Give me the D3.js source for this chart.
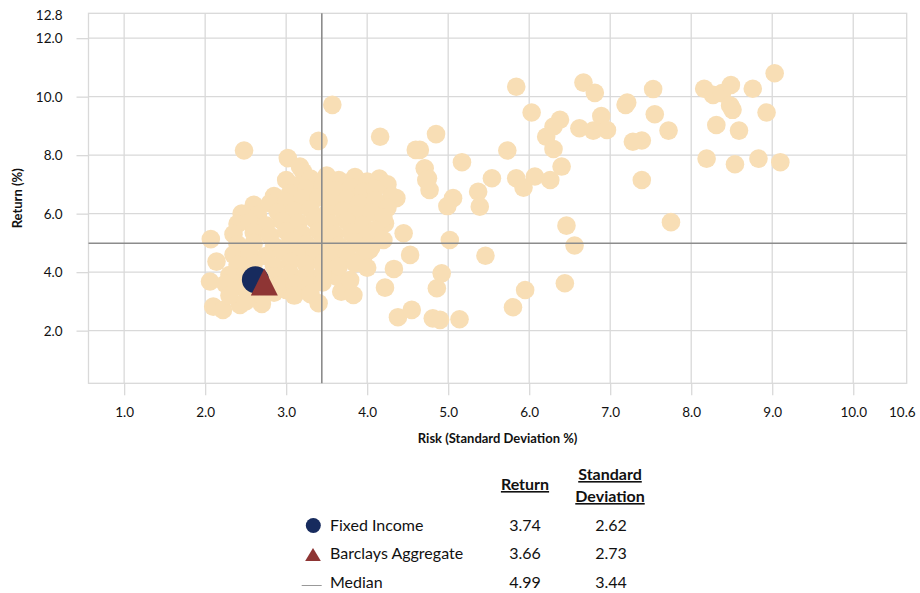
<!DOCTYPE html>
<html><head><meta charset="utf-8">
<script src="https://cdn.jsdelivr.net/npm/d3@7"></script>
<style>
body{margin:0;background:#fff}
text{font-family:Lato,"Open Sans",sans-serif;fill:#111}
</style>
</head><body>
<svg id="chart" width="920" height="593"></svg>
<script>
// ---- data (risk = standard deviation %, return %) ----
const peerPoints = [
  // upper-right group
  [7.53,10.26],[7.55,9.40],[7.72,8.84],[7.39,8.50],[7.39,7.15],[7.75,5.71],
  [8.16,10.27],[8.27,10.06],[8.38,10.12],[8.49,10.40],[8.48,9.70],[8.51,9.55],[8.31,9.03],[8.59,8.84],
  [8.76,10.27],[9.03,10.80],[8.93,9.46],[8.19,7.88],[8.54,7.69],[8.83,7.88],[9.10,7.76],
  // middle group
  [5.84,10.34],[6.03,9.46],[6.67,10.48],[6.81,10.13],[6.89,9.34],[6.38,9.21],[6.30,8.98],[6.21,8.63],
  [6.30,8.21],[6.62,8.92],[6.79,8.84],[6.96,8.86],[7.19,9.72],[7.21,9.80],[7.28,8.46],[6.40,7.61],
  [5.73,8.16],[5.17,7.76],[5.54,7.21],[5.84,7.21],[5.93,6.89],[6.07,7.27],[6.26,7.15],[5.37,6.75],
  [5.39,6.24],[5.06,6.53],[4.99,6.26],[4.71,7.55],[4.75,7.21],[4.77,6.81],[4.65,8.18],[4.85,8.72],
  [6.46,5.59],[6.56,4.91],[5.02,5.10],[5.46,4.56],[4.92,3.96],[4.86,3.45],[5.95,3.39],[5.80,2.80],
  [6.44,3.62],[4.81,2.42],[4.90,2.37],[5.14,2.39],[4.38,2.46],[4.55,2.71],
  [3.57,9.72],[3.40,8.49],[4.16,8.63],[4.60,8.18],[4.73,7.15],[4.36,6.53],[4.45,5.33],[4.22,5.67],
  [2.48,8.16],[3.02,7.90],[3.17,7.61],[3.21,7.43],[3.00,7.15],
  // lower / left edge of the main cluster
  [2.07,5.13],[2.14,4.36],[2.06,3.68],[2.10,2.82],[2.22,2.71],[2.43,2.88],[2.70,2.91],[3.00,3.39],
  [3.21,3.39],[3.40,2.94],[3.68,3.33],[3.83,3.22],[3.62,3.85],[3.79,3.73],[4.22,3.47],[4.33,4.11],
  [4.53,4.59],[4.03,4.76],
  // dense main cluster
  [3.30,7.20],[3.50,7.30],[3.65,7.15],[3.85,7.25],[4.00,7.10],[4.15,7.20],[4.25,7.00],[3.10,6.95],
  [2.85,6.60],[3.05,6.70],[3.25,6.85],[3.45,6.95],[3.60,6.80],[3.80,6.90],[3.95,6.75],[4.10,6.85],[4.30,6.60],
  [2.60,6.30],[2.80,6.35],[3.00,6.40],[3.20,6.50],[3.40,6.55],[3.55,6.35],[3.75,6.50],[3.90,6.35],[4.10,6.45],[4.25,6.20],
  [2.45,6.00],[2.65,5.95],[2.90,6.05],[3.10,6.10],[3.30,6.15],[3.50,6.00],[3.70,6.10],[3.85,5.95],[4.05,6.05],[4.20,5.85],
  [2.40,5.65],[2.55,5.70],[2.75,5.60],[2.95,5.75],[3.15,5.70],[3.35,5.80],[3.55,5.65],[3.75,5.75],[3.95,5.60],[4.10,5.45],
  [2.35,5.30],[2.60,5.35],[2.80,5.25],[3.00,5.40],[3.20,5.30],[3.40,5.40],[3.60,5.30],[3.80,5.35],[4.00,5.20],[4.20,5.10],
  [2.40,4.95],[2.60,5.00],[2.85,4.90],[3.05,5.05],[3.25,4.95],[3.45,5.00],[3.65,4.90],[3.85,5.00],[4.05,4.85],
  [2.35,4.60],[2.55,4.65],[2.75,4.55],[2.95,4.70],[3.15,4.60],[3.35,4.65],[3.55,4.55],[3.75,4.60],[3.95,4.50],
  [2.40,4.25],[2.60,4.30],[2.85,4.20],[3.05,4.35],[3.25,4.25],[3.45,4.30],[3.65,4.20],[3.85,4.30],[4.00,4.15],
  [2.30,3.90],[2.50,3.95],[2.85,3.85],[3.05,3.95],[3.25,3.90],[3.45,3.95],
  [2.25,3.60],[2.45,3.50],[2.75,3.50],[2.90,3.55],[3.10,3.60],[3.30,3.55],[3.45,3.65],
  [2.30,3.20],[2.55,3.20],[2.50,3.00],[2.85,3.30],[3.10,3.20],[3.30,3.25]
];
const seriesNames = ["Fixed Income", "Barclays Aggregate", "Median"];
const seriesReturn = [3.74, 3.66, 4.99];
const seriesStdDev = [2.62, 2.73, 3.44];
const xTickValues = [1,2,3,4,5,6,7,8,9,10,10.6];
const yTickValues = [2,4,6,8,10,12,12.8];
const xDomain = [0.56, 10.66];
const yDomain = [0.2, 12.85];

// ---- layout ----
const svg = d3.select("#chart");
const L = 88.5, R = 906.7, T = 13.3, B = 383.3;
const x = d3.scaleLinear().domain(xDomain).range([L, R]);
const y = d3.scaleLinear().domain(yDomain).range([B, T]);
const gridColor = "#d9d9d9";
const tan = "#f8deb5", navy = "#172b5e", red = "#8e3534", medianColor = "#8c8c8c";

// gridlines
const grid = svg.append("g");
grid.selectAll("line.v").data(xTickValues.filter(Number.isInteger)).join("line")
  .attr("x1", d => x(d)).attr("x2", d => x(d)).attr("y1", T).attr("y2", B)
  .attr("stroke", gridColor).attr("stroke-width", 1.3);
grid.selectAll("line.h").data(yTickValues.filter(Number.isInteger)).join("line")
  .attr("x1", L).attr("x2", R).attr("y1", d => y(d)).attr("y2", d => y(d))
  .attr("stroke", gridColor).attr("stroke-width", 1.3);
svg.append("rect").attr("x", L).attr("y", T).attr("width", R - L).attr("height", B - T)
  .attr("fill", "none").attr("stroke", gridColor).attr("stroke-width", 1.3);

// axes
const fmt = d3.format(".1f");
const xAxis = svg.append("g").attr("transform", `translate(0,${B})`)
  .call(d3.axisBottom(x).tickValues(xTickValues).tickFormat(fmt).tickSize(12).tickPadding(12));
const yAxis = svg.append("g").attr("transform", `translate(${L},0)`)
  .call(d3.axisLeft(y).tickValues(yTickValues).tickFormat(fmt).tickSize(12).tickPadding(14));
[xAxis, yAxis].forEach(g => {
  g.select(".domain").remove();
  g.selectAll(".tick line").attr("stroke", gridColor).attr("stroke-width", 1.3)
    .filter(d => !Number.isInteger(d)).remove();
  g.selectAll(".tick text").attr("font-family", "Lato").attr("font-size", 13.5).attr("fill", "#111");
});
yAxis.selectAll(".tick text").attr("dy", "0.35em");

// peer dots
svg.append("g").selectAll("circle").data(peerPoints).join("circle")
  .attr("cx", d => x(d[0])).attr("cy", d => y(d[1])).attr("r", 9.3).attr("fill", tan);

// median lines
svg.append("line").attr("x1", x(seriesStdDev[2])).attr("x2", x(seriesStdDev[2]))
  .attr("y1", T).attr("y2", B).attr("stroke", medianColor).attr("stroke-width", 1.6);
svg.append("line").attr("x1", L).attr("x2", R)
  .attr("y1", y(seriesReturn[2])).attr("y2", y(seriesReturn[2])).attr("stroke", medianColor).attr("stroke-width", 1.6);

// highlighted markers
function tri(cx, cy, w, h) {
  return `M${cx - w/2},${cy + h/2}L${cx + w/2},${cy + h/2}L${cx},${cy - h/2}Z`;
}
svg.append("circle").attr("cx", x(seriesStdDev[0])).attr("cy", y(seriesReturn[0])).attr("r", 13.5).attr("fill", navy);
svg.append("path").attr("d", tri(x(seriesStdDev[1]), y(seriesReturn[1]), 27, 27)).attr("fill", red);

// axis titles
svg.append("text").attr("x", (L + R) / 2).attr("y", 443).attr("text-anchor", "middle")
  .attr("font-weight", "bold").attr("font-size", 13).text("Risk (Standard Deviation %)");
svg.append("text").attr("transform", `translate(22,${(T + B) / 2}) rotate(-90)`).attr("text-anchor", "middle")
  .attr("font-weight", "bold").attr("font-size", 13).text("Return (%)");

// legend table
const lg = svg.append("g").attr("font-size", 16);
lg.append("text").attr("x", 525).attr("y", 490).attr("text-anchor", "middle").attr("font-weight", "bold")
  .style("text-decoration", "underline").text("Return");
lg.append("text").attr("x", 610).attr("y", 480).attr("text-anchor", "middle").attr("font-weight", "bold")
  .style("text-decoration", "underline").text("Standard");
lg.append("text").attr("x", 610).attr("y", 502).attr("text-anchor", "middle").attr("font-weight", "bold")
  .style("text-decoration", "underline").text("Deviation");
const rowY = [531, 559, 588];
seriesNames.forEach((name, i) => {
  lg.append("text").attr("x", 330).attr("y", rowY[i]).text(name);
  lg.append("text").attr("x", 525).attr("y", rowY[i]).attr("text-anchor", "middle").text(fmt2(seriesReturn[i]));
  lg.append("text").attr("x", 611).attr("y", rowY[i]).attr("text-anchor", "middle").text(fmt2(seriesStdDev[i]));
});
function fmt2(v) { return d3.format(".2f")(v); }
lg.append("circle").attr("cx", 313.3).attr("cy", rowY[0] - 5.5).attr("r", 7.5).attr("fill", navy);
lg.append("path").attr("d", tri(313, rowY[1] - 4.5, 15.7, 13)).attr("fill", red);
lg.append("line").attr("x1", 301.7).attr("x2", 321.7).attr("y1", rowY[2] - 2.5).attr("y2", rowY[2] - 2.5)
  .attr("stroke", "#999").attr("stroke-width", 1);
</script>
</body></html>
